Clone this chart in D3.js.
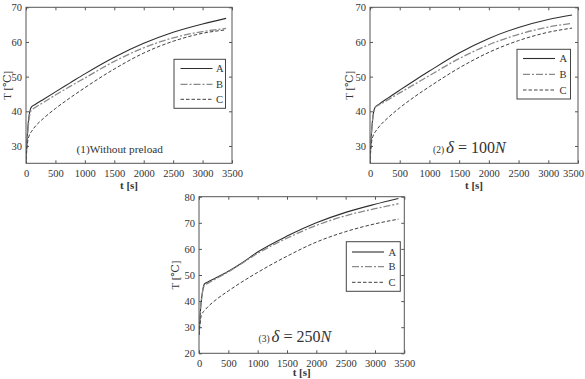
<!DOCTYPE html>
<html><head><meta charset="utf-8">
<script src="https://cdn.jsdelivr.net/npm/d3@7"></script>
<style>
html,body{margin:0;padding:0;background:#fff;}
svg{display:block;}
text{font-family:"Liberation Serif","DejaVu Serif",serif;fill:#333;}
</style></head>
<body>
<svg id="c" width="585" height="379"></svg>
<script>
// ---- data ----
const time = [0, 15, 30, 50, 70, 90, 150, 300, 500, 750, 1000, 1500, 2000, 2500, 3000, 3400];
const seriesNames = ["A", "B", "C"];
const xTicks = [0, 500, 1000, 1500, 2000, 2500, 3000, 3500];
const yTicks12 = [30, 40, 50, 60, 70];
const yTicks3 = [20, 30, 40, 50, 60, 70, 80];

const p1A = [26, 31, 35, 38.5, 40.3, 41.2, 41.9, 43.5, 45.6, 48.2, 50.8, 55.6, 59.6, 62.8, 65.2, 66.8];
const p1B = [26, 30, 34, 37.5, 39.5, 40.3, 41.0, 42.6, 44.7, 47.2, 49.6, 54.4, 58.3, 61.2, 63.0, 63.9];
const p1C = [26, 29, 31.5, 32.8, 33.6, 34.1, 35.5, 38.0, 40.8, 43.9, 46.8, 52.2, 56.8, 60.2, 62.5, 63.5];

const p2A = [26, 31, 35, 38.5, 40.5, 41.2, 42.0, 43.8, 46.1, 48.9, 51.6, 56.8, 61.0, 64.2, 66.5, 67.8];
const p2B = [26, 31, 35, 38.5, 40.5, 41.2, 41.8, 43.3, 45.3, 47.8, 50.3, 55.2, 59.2, 62.2, 64.3, 65.4];
const p2C = [26, 29, 31.5, 32.8, 33.6, 34.1, 35.5, 38.1, 41.0, 44.2, 47.1, 52.5, 57.0, 60.4, 62.8, 64.0];

const p3A = [27, 33, 38, 42, 45, 46.5, 47.3, 49.0, 51.4, 54.9, 58.8, 64.9, 70.0, 74.0, 77.1, 79.3];
const p3B = [27, 33, 38, 42, 44.6, 45.9, 46.8, 48.7, 51.2, 54.7, 58.3, 64.1, 69.0, 72.7, 75.4, 77.3];
const p3C = [27, 30.5, 33.5, 35, 35.8, 36.3, 37.8, 40.7, 43.9, 47.6, 51.0, 57.2, 62.6, 66.6, 69.6, 71.4];

// ---- styles ----
const lineStyle = [
  {stroke: "#2e2e2e", width: 1.1, dash: null},
  {stroke: "#8a8a8a", width: 1.3, dash: "7,2,2,2"},
  {stroke: "#404040", width: 1.0, dash: "3.5,2"}
];

const svg = d3.select("#c");
svg.append("rect").attr("width", 585).attr("height", 379).attr("fill", "#fff");

function panel(cfg) {
  const g = svg.append("g");
  const x = d3.scaleLinear().domain([0, 3500]).range([cfg.l, cfg.r]);
  const y = d3.scaleLinear().domain(cfg.yDomain).range([cfg.b, cfg.t]);

  const axB = g.append("g").attr("transform", `translate(0,${cfg.b})`)
    .call(d3.axisBottom(x).tickValues(xTicks).tickSize(-3).tickPadding(6).tickFormat(d3.format("d")));
  const axT = g.append("g").attr("transform", `translate(0,${cfg.t})`)
    .call(d3.axisTop(x).tickValues(xTicks).tickSize(-3).tickFormat(""));
  const axL = g.append("g").attr("transform", `translate(${cfg.l},0)`)
    .call(d3.axisLeft(y).tickValues(cfg.yTicks).tickSize(-3).tickPadding(4));
  const axR = g.append("g").attr("transform", `translate(${cfg.r},0)`)
    .call(d3.axisRight(y).tickValues(cfg.yTicks).tickSize(-3).tickFormat(""));
  [axB, axT, axL, axR].forEach(a => {
    a.select(".domain").remove();
    a.selectAll("line").attr("stroke", "#555");
    a.selectAll("text").attr("font-family", "Liberation Serif").attr("font-size", 10.5).attr("fill", "#444");
  });
  if (cfg.lastShift) {
    axB.selectAll(".tick").filter(d => d === 3500).select("text").attr("dx", cfg.lastShift);
  }

  const clipId = "clip" + cfg.id;
  svg.append("clipPath").attr("id", clipId).append("rect")
    .attr("x", cfg.l).attr("y", cfg.t).attr("width", cfg.r - cfg.l).attr("height", cfg.b - cfg.t);

  const line = d3.line().x(d => x(d[0])).y(d => y(d[1])).curve(d3.curveMonotoneX);
  cfg.series.forEach((vals, i) => {
    const st = lineStyle[i];
    g.append("path")
      .attr("clip-path", `url(#${clipId})`)
      .attr("d", line(time.map((t, k) => [t, vals[k]])))
      .attr("fill", "none").attr("stroke", st.stroke).attr("stroke-width", st.width)
      .attr("stroke-dasharray", st.dash);
  });

  g.append("rect").attr("x", cfg.l).attr("y", cfg.t)
    .attr("width", cfg.r - cfg.l).attr("height", cfg.b - cfg.t)
    .attr("fill", "none").attr("stroke", "#555").attr("stroke-width", 1);

  // legend
  const L = cfg.leg;
  g.append("rect").attr("x", L.x0).attr("y", L.y0).attr("width", L.x1 - L.x0).attr("height", L.y1 - L.y0)
    .attr("fill", "#fff").attr("stroke", "#444").attr("stroke-width", 1);
  seriesNames.forEach((n, i) => {
    const st = lineStyle[i];
    const yy = L.rows[i];
    g.append("line").attr("x1", L.lx0).attr("x2", L.lx1).attr("y1", yy).attr("y2", yy)
      .attr("stroke", st.stroke).attr("stroke-width", st.width).attr("stroke-dasharray", st.dash);
    g.append("text").attr("x", L.tx).attr("y", yy + 3.6).attr("font-size", 10.5).attr("fill", "#333").text(n);
  });

  // axis labels
  g.append("text").attr("x", (cfg.l + cfg.r) / 2).attr("y", cfg.xLabY)
    .attr("text-anchor", "middle").attr("font-size", 11).attr("font-weight", "bold").attr("fill", "#444").text("t [s]");
  g.append("text").attr("transform", `translate(${cfg.yLabX},${(cfg.t + cfg.b) / 2}) rotate(-90)`)
    .attr("text-anchor", "middle").attr("font-size", 11).attr("fill", "#444").text("T [\u2103]");
  return g;
}

const g1 = panel({id: 1, l: 26, r: 232, t: 7.3, b: 163.3, yDomain: [25, 70], yTicks: yTicks12,
  series: [p1A, p1B, p1C], xLabY: 189, yLabX: 11,
  leg: {x0: 174, x1: 225.5, y0: 59.3, y1: 108.3, lx0: 180.5, lx1: 212.5, tx: 216, rows: [68.5, 84.3, 99.3]}});
g1.append("text").attr("x", 76.5).attr("y", 153.3).attr("font-size", 11.3).attr("fill", "#444").text("(1)Without preload");

const g2 = panel({id: 2, l: 370, r: 578, t: 7.3, b: 163.3, yDomain: [25, 70], yTicks: yTicks12,
  series: [p2A, p2B, p2C], xLabY: 189, yLabX: 353, lastShift: -5,
  leg: {x0: 517, x1: 570.5, y0: 49.3, y1: 99, lx0: 523, lx1: 555, tx: 559.5, rows: [58.5, 74.3, 90]}});
function deltaLabel(g, x0, yb, num, id) {
  const t = g.append("text").attr("x", x0).attr("y", yb).attr("fill", "#333");
  t.append("tspan").attr("font-size", 9.5).text("(" + id + ")");
  t.append("tspan").attr("dx", 2).attr("font-size", 17).attr("font-style", "italic").text("\u03b4");
  t.append("tspan").attr("font-size", 16).text(" = " + num);
  t.append("tspan").attr("font-size", 16).attr("font-style", "italic").text("N");
}
deltaLabel(g2, 433, 153.3, 100, 2);

const g3 = panel({id: 3, l: 199, r: 404.3, t: 196.7, b: 353.3, yDomain: [20, 80], yTicks: yTicks3,
  series: [p3A, p3B, p3C], xLabY: 376, yLabX: 179,
  leg: {x0: 346.3, x1: 400.3, y0: 241.7, y1: 291.3, lx0: 352, lx1: 384, tx: 388.5, rows: [252, 266.7, 282.3]}});
deltaLabel(g3, 258.5, 342.3, 250, 3);
</script>
</body></html>
